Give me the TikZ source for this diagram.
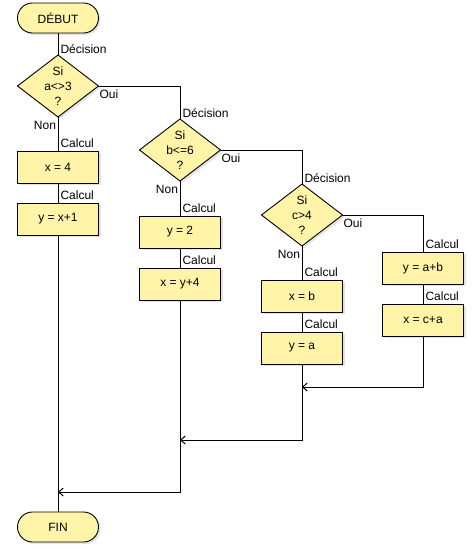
\documentclass[tikz,border=0pt]{standalone}
\usepackage{fontspec}
\setmainfont{Liberation Sans}
\usetikzlibrary{shapes.geometric,shadows,arrows.meta}
\definecolor{boxyellow}{RGB}{255,244,168}

\begin{document}
\begin{tikzpicture}[x=1pt,y=-1pt,
  every node/.style={font=\fontsize{12}{15}\selectfont,inner sep=0pt,outer sep=0pt},
  boxshadow/.style={drop shadow={shadow xshift=2pt,shadow yshift=-2pt,fill=black!22}},
  calcbox/.style={draw=black,line width=0.9pt,fill=boxyellow,minimum width=81pt,minimum height=32pt,boxshadow},
  decisionbox/.style={diamond,draw=black,line width=0.9pt,fill=boxyellow,minimum width=81pt,minimum height=62pt,boxshadow},
  endbox/.style={rectangle,rounded corners=15pt,draw=black,line width=0.9pt,fill=boxyellow,minimum width=81pt,minimum height=30pt,boxshadow},
  tag/.style={inner sep=1pt},
  link/.style={line width=1pt,black},
  >={Straight Barb[length=4.5pt,width=8pt]}]
\useasboundingbox (0,0) rectangle (474,549);
\node [endbox] (debut) at (58,18) {DÉBUT};
\node [decisionbox,label={[align=center]center:{Si\\a<>3\\?}}] (si1) at (58,86) {};
\node [calcbox] (x4) at (58,167) {x = 4};
\node [calcbox] (yx1) at (58,219) {y = x+1};
\node [decisionbox,label={[align=center]center:{Si\\b<=6\\?}}] (si2) at (180,150) {};
\node [calcbox] (y2) at (180,232) {y = 2};
\node [calcbox] (xy4) at (180,284) {x = y+4};
\node [decisionbox,label={[align=center]center:{Si\\c>4\\?}}] (si3) at (302,215) {};
\node [calcbox] (xb) at (302,296) {x = b};
\node [calcbox] (ya) at (302,348) {y = a};
\node [calcbox] (yab) at (423,268) {y = a+b};
\node [calcbox] (xca) at (423,320) {x = c+a};
\node [endbox] (fin) at (58,527) {FIN};
\coordinate (join3) at (302,387);
\coordinate (join2) at (180,440);
\coordinate (join1) at (58,492);
\node [tag,anchor=south west] (dec1) at ([xshift=1.5pt]si1.north) {Décision};
\node [tag,anchor=south west] (dec2) at ([xshift=1.5pt]si2.north) {Décision};
\node [tag,anchor=south west] (dec3) at ([xshift=1.5pt]si3.north) {Décision};
\node [tag,anchor=north west] (oui1) at ([yshift=-3pt]si1.east) {Oui};
\node [tag,anchor=north west] (oui2) at ([yshift=-3pt]si2.east) {Oui};
\node [tag,anchor=north west] (oui3) at ([yshift=-3pt]si3.east) {Oui};
\node [tag,anchor=north east] (non1) at ([xshift=-1pt,yshift=-3pt]si1.south) {Non};
\node [tag,anchor=north east] (non2) at ([xshift=-1pt,yshift=-3pt]si2.south) {Non};
\node [tag,anchor=north east] (non3) at ([xshift=-1pt,yshift=-3pt]si3.south) {Non};
\node [tag,anchor=south west] (cal1) at ([xshift=1.5pt,yshift=2pt]x4.north) {Calcul};
\node [tag,anchor=south west] (cal2) at ([xshift=1.5pt,yshift=2pt]yx1.north) {Calcul};
\node [tag,anchor=south west] (cal3) at ([xshift=1.5pt,yshift=2pt]y2.north) {Calcul};
\node [tag,anchor=south west] (cal4) at ([xshift=1.5pt,yshift=2pt]xy4.north) {Calcul};
\node [tag,anchor=south west] (cal5) at ([xshift=1.5pt,yshift=2pt]xb.north) {Calcul};
\node [tag,anchor=south west] (cal6) at ([xshift=1.5pt,yshift=2pt]ya.north) {Calcul};
\node [tag,anchor=south west] (cal7) at ([xshift=1.5pt,yshift=2pt]yab.north) {Calcul};
\node [tag,anchor=south west] (cal8) at ([xshift=1.5pt,yshift=2pt]xca.north) {Calcul};
\draw [link] (debut) -- (si1);
\draw [link] (si1) -- (x4);
\draw [link] (x4) -- (yx1);
\draw [link] (yx1) -- (fin);
\draw [link] (si1.east) -| (si2.north);
\draw [link] (si2) -- (y2);
\draw [link] (y2) -- (xy4);
\draw [link] (si2.east) -| (si3.north);
\draw [link] (si3) -- (xb);
\draw [link] (xb) -- (ya);
\draw [link] (si3.east) -| (yab.north);
\draw [link] (yab) -- (xca);
\draw [link,->] (xca.south) |- (join3);
\draw [link,->] (ya.south) |- (join2);
\draw [link,->] (xy4.south) |- (join1);
\end{tikzpicture}
\end{document}
